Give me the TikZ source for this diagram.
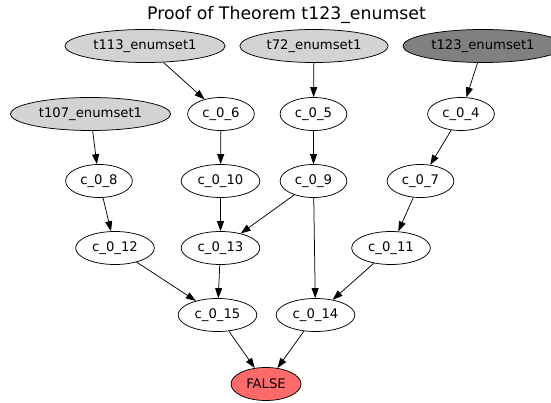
\documentclass[tikz,border=0pt]{standalone}
\usepackage{fontspec}
\setmainfont{DejaVu Sans}
\usetikzlibrary{arrows.meta,shapes.geometric}
\definecolor{falsered}{RGB}{255,106,106}
\definecolor{axgrey}{RGB}{211,211,211}
\definecolor{conjgrey}{RGB}{128,128,128}

\begin{document}
\begin{tikzpicture}[x=1pt, y=1pt,
	step node/.style={ellipse, draw, line width=0.75pt, inner xsep=5pt, inner ysep=0pt, minimum height=33pt, font=\fontsize{13.2}{15}\selectfont},
	axiom/.style={step node, fill=axgrey},
	conj/.style={step node, fill=conjgrey},
	goal/.style={step node, fill=falsered},
	edge/.style={line width=0.75pt, -{Triangle[length=10pt, width=7pt]}}]
			%%%%% START %%%%%
			
			\useasboundingbox (0, 0) rectangle (551, 402);
			
			\node[anchor=base, font=\fontsize{17.3}{20}\selectfont] (title) at (286.5, 382) {Proof of Theorem t123\_enumset};
			
			\node[axiom] (t113) at (145, 356) {t113\_enumset1};
			\node[axiom] (t72) at (314, 356) {t72\_enumset1};
			\node[conj] (t123) at (483, 356) {t123\_enumset1};
			
			\node[axiom] (t107) at (90.5, 288) {t107\_enumset1};
			\node[step node] (c6) at (221, 288) {c\_0\_6};
			\node[step node] (c5) at (313.5, 288) {c\_0\_5};
			\node[step node] (c4) at (461, 288) {c\_0\_4};
			
			\node[step node] (c8) at (99, 221) {c\_0\_8};
			\node[step node] (c10) at (220.5, 221) {c\_0\_10};
			\node[step node] (c9) at (313.5, 221) {c\_0\_9};
			\node[step node] (c7) at (420.5, 221) {c\_0\_7};
			
			\node[step node] (c12) at (115, 154) {c\_0\_12};
			\node[step node] (c13) at (220.5, 154) {c\_0\_13};
			\node[step node] (c11) at (391, 154) {c\_0\_11};
			
			\node[step node] (c15) at (217.5, 87) {c\_0\_15};
			\node[step node] (c14) at (315.5, 87) {c\_0\_14};
			
			\node[goal] (false) at (266, 18) {FALSE};
			
			\draw[edge] (t113) -- (c6);
			\draw[edge] (t72) -- (c5);
			\draw[edge] (t123) -- (c4);
			\draw[edge] (t107) -- (c8);
			\draw[edge] (c6) -- (c10);
			\draw[edge] (c5) -- (c9);
			\draw[edge] (c4) -- (c7);
			\draw[edge] (c8) -- (c12);
			\draw[edge] (c10) -- (c13);
			\draw[edge] (c9) -- (c13);
			\draw[edge] (c9) -- (c14);
			\draw[edge] (c7) -- (c11);
			\draw[edge] (c12) -- (c15);
			\draw[edge] (c13) -- (c15);
			\draw[edge] (c11) -- (c14);
			\draw[edge] (c15) -- (false);
			\draw[edge] (c14) -- (false);
			
			%%%%% END %%%%%
\end{tikzpicture}
\end{document}
